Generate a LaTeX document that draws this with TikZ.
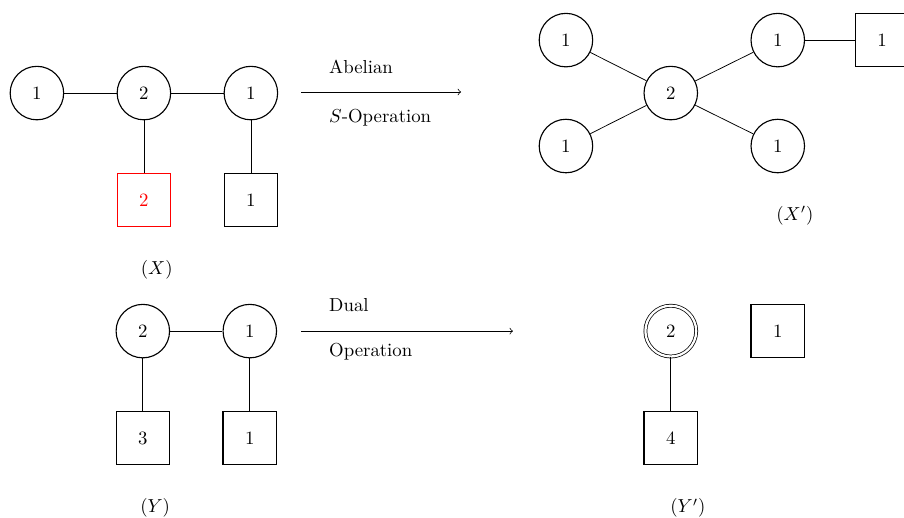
\documentclass[tikz,border=0pt]{standalone}
\usetikzlibrary{positioning}

\tikzset{
    gauge/.style={draw,semithick,circle,minimum size=1cm,inner sep=0pt},
    dgauge/.style={draw,circle,double,double distance=1.2pt,minimum size=0.95cm,inner sep=0pt},
    flavor/.style={draw,semithick,rectangle,minimum size=1cm,inner sep=0pt},
}

\begin{document}
\begin{tikzpicture}[scale=1.0]
    \useasboundingbox (0,0) rectangle (16.9,-9.68);

    % quiver X
    \node[gauge] (x1) at (0.69,-1.74) {1};
    \node[gauge] (x2) at (2.69,-1.74) {2};
    \node[gauge] (x3) at (4.69,-1.74) {1};
    \node[flavor,red] (xf1) at (2.69,-3.74) {2};
    \node[flavor] (xf2) at (4.69,-3.74) {1};
    \draw (x1) -- (x2) -- (x3);
    \draw (x2) -- (xf1);
    \draw (x3) -- (xf2);
    \node (xl) at (2.93,-5.05) {\((X)\)};

    % abelian S-operation
    \coordinate (a1) at (5.63,-1.72);
    \coordinate (a2) at (8.62,-1.72);
    \draw[->] (a1) -- (a2);
    \node[anchor=west] (ab) at (6.03,-1.25) {Abelian};
    \node[anchor=west] (so) at (6.03,-2.2) {\(S\)-Operation};

    % quiver X'
    \node[gauge] (c) at (12.54,-1.74) {2};
    \node[gauge] (p1) at (10.58,-0.75) {1};
    \node[gauge] (p2) at (14.54,-0.75) {1};
    \node[gauge] (p3) at (10.58,-2.73) {1};
    \node[gauge] (p4) at (14.54,-2.73) {1};
    \node[flavor] (pf) at (16.49,-0.75) {1};
    \draw (c) -- (p1);
    \draw (c) -- (p2);
    \draw (c) -- (p3);
    \draw (c) -- (p4);
    \draw (p2) -- (pf);
    \node (pl) at (14.86,-4.04) {\((X')\)};

    % quiver Y
    \node[gauge] (y1) at (2.67,-6.19) {2};
    \node[gauge] (y2) at (4.67,-6.19) {1};
    \node[flavor] (yf1) at (2.67,-8.19) {3};
    \node[flavor] (yf2) at (4.67,-8.19) {1};
    \draw (y1) -- (y2);
    \draw (y1) -- (yf1);
    \draw (y2) -- (yf2);
    \node (yl) at (2.9,-9.5) {\((Y)\)};

    % dual operation
    \coordinate (d1) at (5.63,-6.19);
    \coordinate (d2) at (9.59,-6.19);
    \draw[->] (d1) -- (d2);
    \node[anchor=west] (du) at (6.03,-5.7) {Dual};
    \node[anchor=west] (op) at (6.03,-6.57) {Operation};

    % quiver Y'
    \node[dgauge] (q1) at (12.54,-6.19) {2};
    \node[flavor] (qf1) at (14.54,-6.19) {1};
    \node[flavor] (qf2) at (12.54,-8.19) {4};
    \draw (q1) -- (qf2);
    \node (ql) at (12.86,-9.5) {\((Y')\)};
\end{tikzpicture}
\end{document}
